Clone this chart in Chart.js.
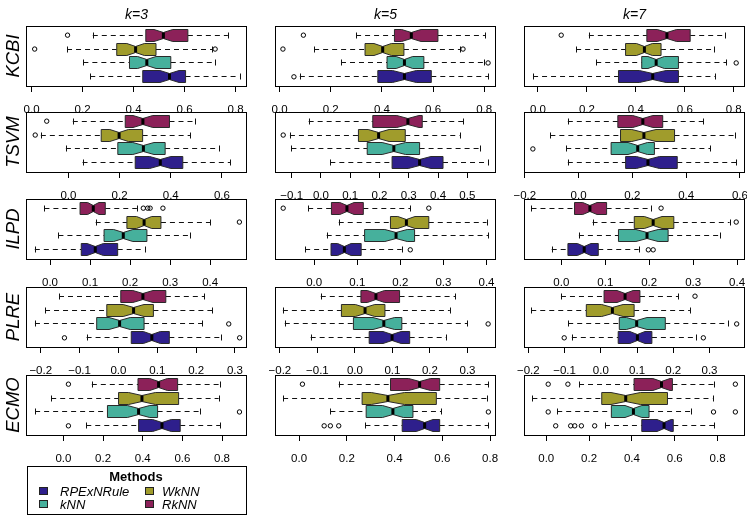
<!DOCTYPE html>
<html>
<head>
<meta charset="utf-8">
<script src="https://cdn.jsdelivr.net/npm/chart.js@4.4.1/dist/chart.umd.min.js"></script>
<style>
  html, body { margin:0; padding:0; background:#fff; }
  body { position:relative; width:747px; height:521px; overflow:hidden; font-family:"Liberation Sans", Arial, Helvetica, sans-serif; color:#000; }
  canvas { position:absolute; }
  .t { position:absolute; white-space:nowrap; transform:translate(-50%,-50%); line-height:1; }
  .l { position:absolute; white-space:nowrap; transform:translate(0,-50%); line-height:1; }
  .sw { position:absolute; box-sizing:border-box; border:1px solid #222; }
</style>
</head>
<body>
<script>
// ---------------- DATA ----------------
const datasetNames = ['KCBI', 'TSVM', 'ILPD', 'PLRE', 'ECMO'];
const kLabels = ['k=3', 'k=5', 'k=7'];
// bottom -> top inside each panel
const methods = ['RPExNRule', 'kNN', 'WkNN', 'RkNN'];

// five-number summaries [lower whisker, Q1, median, Q3, upper whisker]
// order: KCBI k3,k5,k7, TSVM k3,k5,k7, ILPD ..., PLRE ..., ECMO ...
const rpexnruleStats = [
  [0.230, 0.436, 0.541, 0.604, 0.816], [0.079, 0.384, 0.488, 0.593, 0.816], [-0.020, 0.329, 0.469, 0.574, 0.724],
  [0.055, 0.261, 0.359, 0.447, 0.633], [0.032, 0.243, 0.337, 0.417, 0.569], [-0.040, 0.175, 0.258, 0.367, 0.586],
  [-0.038, 0.078, 0.113, 0.169, 0.236], [-0.021, 0.039, 0.070, 0.109, 0.203], [-0.022, 0.015, 0.052, 0.084, 0.176],
  [-0.082, 0.033, 0.086, 0.131, 0.264], [-0.118, 0.038, 0.099, 0.146, 0.244], [-0.080, 0.048, 0.101, 0.141, 0.264],
  [0.115, 0.379, 0.497, 0.589, 0.792], [0.278, 0.432, 0.526, 0.589, 0.793], [0.274, 0.446, 0.550, 0.593, 0.784]
];
const knnStats = [
  [0.203, 0.384, 0.452, 0.546, 0.718], [0.240, 0.420, 0.488, 0.564, 0.800], [0.238, 0.424, 0.483, 0.574, 0.769],
  [-0.010, 0.193, 0.293, 0.378, 0.587], [-0.101, 0.158, 0.249, 0.337, 0.543], [-0.046, 0.121, 0.220, 0.282, 0.489],
  [0.021, 0.135, 0.183, 0.242, 0.350], [0.029, 0.117, 0.190, 0.233, 0.404], [0.040, 0.130, 0.195, 0.243, 0.362],
  [-0.215, -0.056, 0.003, 0.066, 0.216], [-0.187, -0.004, 0.077, 0.125, 0.299], [-0.090, 0.051, 0.099, 0.178, 0.352],
  [-0.143, 0.222, 0.379, 0.475, 0.691], [0.131, 0.281, 0.393, 0.477, 0.596], [0.051, 0.304, 0.407, 0.480, 0.675]
];
const wknnStats = [
  [0.139, 0.334, 0.408, 0.488, 0.708], [0.135, 0.334, 0.403, 0.486, 0.706], [0.156, 0.358, 0.435, 0.503, 0.721],
  [-0.108, 0.128, 0.198, 0.290, 0.476], [-0.106, 0.128, 0.197, 0.288, 0.474], [-0.105, 0.156, 0.243, 0.357, 0.583],
  [0.114, 0.192, 0.235, 0.277, 0.400], [0.057, 0.177, 0.214, 0.266, 0.400], [0.071, 0.166, 0.209, 0.256, 0.383],
  [-0.189, -0.030, 0.039, 0.090, 0.241], [-0.192, -0.036, 0.027, 0.080, 0.253], [-0.192, -0.040, 0.032, 0.092, 0.246],
  [-0.062, 0.278, 0.396, 0.581, 0.783], [-0.067, 0.264, 0.372, 0.575, 0.786], [-0.065, 0.259, 0.371, 0.566, 0.777]
];
const rknnStats = [
  [0.240, 0.448, 0.517, 0.613, 0.770], [0.299, 0.449, 0.515, 0.619, 0.803], [0.208, 0.445, 0.527, 0.622, 0.765],
  [0.017, 0.222, 0.291, 0.395, 0.496], [-0.042, 0.177, 0.297, 0.346, 0.486], [-0.040, 0.146, 0.239, 0.313, 0.464],
  [-0.014, 0.075, 0.108, 0.138, 0.217], [-0.014, 0.040, 0.076, 0.114, 0.223], [-0.068, 0.030, 0.065, 0.103, 0.204],
  [-0.153, 0.006, 0.063, 0.122, 0.221], [-0.091, 0.016, 0.056, 0.119, 0.268], [-0.110, 0.009, 0.067, 0.108, 0.214],
  [0.143, 0.376, 0.480, 0.576, 0.788], [0.166, 0.383, 0.505, 0.589, 0.793], [0.153, 0.410, 0.538, 0.589, 0.784]
];

// outliers per panel
const rpexnruleOutliers = [
  [], [0.056], [],
  [], [], [],
  [], [0.223], [0.198, 0.209],
  [-0.139, 0.312], [], [-0.101, 0.283],
  [0.025], [0.105, 0.131, 0.166], [0.044, 0.114, 0.133, 0.164, 0.226]
];
const knnOutliers = [
  [], [0.815], [0.810],
  [], [], [-0.170],
  [], [], [],
  [0.284], [0.355], [0.375],
  [0.888], [0.793], [0.009, 0.781, 0.883]
];
const wknnOutliers = [
  [0.012, 0.720], [0.013, 0.717], [],
  [-0.130], [-0.129], [],
  [0.473], [], [0.398],
  [], [], [],
  [], [], []
];
const rknnOutliers = [
  [0.141], [0.093], [0.095],
  [-0.085], [], [],
  [0.233, 0.244, 0.250, 0.282], [-0.072, 0.266], [0.227],
  [], [], [0.260],
  [0.025], [0.014], [0.009, 0.101, 0.883]
];

// x-axis ticks per panel
const xTicks = [
  [[0, 0.2, 0.4, 0.6, 0.8], [0, 0.2, 0.4, 0.6, 0.8], [0, 0.2, 0.4, 0.6, 0.8]],
  [[0, 0.2, 0.4, 0.6], [-0.1, 0, 0.1, 0.2, 0.3, 0.4, 0.5], [-0.2, 0, 0.2, 0.4, 0.6]],
  [[0, 0.1, 0.2, 0.3, 0.4], [0, 0.1, 0.2, 0.3, 0.4], [0, 0.1, 0.2, 0.3, 0.4]],
  [[-0.2, -0.1, 0, 0.1, 0.2, 0.3], [-0.2, -0.1, 0, 0.1, 0.2, 0.3], [-0.2, -0.1, 0, 0.1, 0.2, 0.3]],
  [[0, 0.2, 0.4, 0.6, 0.8], [0, 0.2, 0.4, 0.6, 0.8], [0, 0.2, 0.4, 0.6, 0.8]]
];
// x-axis limits per panel
const xRanges = [
  [[-0.022, 0.845], [-0.018, 0.846], [-0.057, 0.846]],
  [[-0.166, 0.698], [-0.157, 0.598], [-0.203, 0.619]],
  [[-0.060, 0.492], [-0.091, 0.422], [-0.085, 0.418]],
  [[-0.238, 0.331], [-0.213, 0.376], [-0.212, 0.398]],
  [[-0.189, 0.926], [-0.101, 0.825], [-0.104, 0.928]]
];
const sampleSize = 50; // used for notch width (1.58*IQR/sqrt(n))

// ---------------- STYLE / LAYOUT ----------------
const methodColors = ['#2E1F8C', '#46B09C', '#A09C2C', '#8C2159'];
const allStats = [rpexnruleStats, knnStats, wknnStats, rknnStats];
const allOutliers = [rpexnruleOutliers, knnOutliers, wknnOutliers, rknnOutliers];
const FONT = '"Liberation Sans", Arial, Helvetica, sans-serif';
const PANEL_W = 221, PANEL_H = 60, PADX = 24, PADT = 6, AXIS_H = 38;
const colLeft = [26, 275, 524];
const rowTop = [26, 112, 199, 287, 375];
const BOX_HALF = 0.45, STAPLE = 0.5, NOTCH = 1.58 / Math.sqrt(sampleSize);

Chart.defaults.font.family = FONT;

function fmt(v) {
  const a = Math.abs(v) < 1e-9 ? 0 : v;
  return (a < 0 ? '\u2212' : '') + Math.abs(a).toFixed(1);
}

function drawBox(ctx, xs, ys, stat, pos, color) {
  const [lo, q1, md, q3, hi] = stat;
  const yc = Math.floor(ys.getPixelForValue(pos)) + 0.5;
  const h = Math.round(Math.abs(ys.getPixelForValue(pos + BOX_HALF) - ys.getPixelForValue(pos)));
  const px = v => xs.getPixelForValue(v);
  const iqr = q3 - q1;
  const n1 = md - NOTCH * iqr, n2 = md + NOTCH * iqr;
  const sh = Math.round(h * STAPLE);
  ctx.save();
  ctx.lineWidth = 1;
  ctx.strokeStyle = '#111';
  ctx.setLineDash([5, 4]);
  ctx.beginPath();
  ctx.moveTo(px(lo), yc); ctx.lineTo(px(q1), yc);
  ctx.moveTo(px(q3), yc); ctx.lineTo(px(hi), yc);
  ctx.stroke();
  ctx.setLineDash([]);
  ctx.beginPath();
  ctx.moveTo(Math.round(px(lo)) + 0.5, yc - sh); ctx.lineTo(Math.round(px(lo)) + 0.5, yc + sh);
  ctx.moveTo(Math.round(px(hi)) + 0.5, yc - sh); ctx.lineTo(Math.round(px(hi)) + 0.5, yc + sh);
  ctx.stroke();
  ctx.beginPath();
  ctx.moveTo(px(q1), yc - h); ctx.lineTo(px(n1), yc - h); ctx.lineTo(px(md), yc - h / 2);
  ctx.lineTo(px(n2), yc - h); ctx.lineTo(px(q3), yc - h); ctx.lineTo(px(q3), yc + h);
  ctx.lineTo(px(n2), yc + h); ctx.lineTo(px(md), yc + h / 2); ctx.lineTo(px(n1), yc + h);
  ctx.lineTo(px(q1), yc + h); ctx.closePath();
  ctx.fillStyle = color; ctx.fill();
  ctx.strokeStyle = '#2a2a2a'; ctx.stroke();
  ctx.lineWidth = 3; ctx.strokeStyle = '#000';
  ctx.beginPath(); ctx.moveTo(px(md), yc - h / 2); ctx.lineTo(px(md), yc + h / 2); ctx.stroke();
  ctx.restore();
}

function makeBoxPlugin(idx) {
  return {
    id: 'notchedBoxes' + idx,
    beforeDatasetsDraw(chart) {
      const { ctx, scales: { x, y } } = chart;
      allStats.forEach((st, m) => drawBox(ctx, x, y, st[idx], m + 1, methodColors[m]));
    },
    afterDraw(chart) {
      const { ctx, chartArea: a } = chart;
      ctx.save();
      ctx.strokeStyle = '#000'; ctx.lineWidth = 1;
      ctx.strokeRect(Math.round(a.left) + 0.5, Math.round(a.top) + 0.5, Math.round(a.right - a.left) - 1, Math.round(a.bottom - a.top));
      ctx.restore();
    }
  };
}

for (let r = 0; r < datasetNames.length; r++) {
  for (let c = 0; c < kLabels.length; c++) {
    const idx = r * 3 + c;
    const cv = document.createElement('canvas');
    const W = PANEL_W + 2 * PADX, H = PADT + PANEL_H + AXIS_H;
    cv.width = W; cv.height = H;
    cv.style.left = (colLeft[c] - PADX) + 'px';
    cv.style.top = (rowTop[r] - PADT) + 'px';
    cv.style.width = W + 'px'; cv.style.height = H + 'px';
    document.body.appendChild(cv);
    const ticks = xTicks[r][c];
    new Chart(cv, {
      type: 'scatter',
      data: {
        datasets: methods.map((name, m) => ({
          label: name,
          data: allOutliers[m][idx].map(v => ({ x: v, y: m + 1 })),
          pointStyle: 'circle',
          pointRadius: 2.2,
          pointBorderWidth: 1,
          borderColor: '#000',
          backgroundColor: 'rgba(0,0,0,0)'
        }))
      },
      options: {
        responsive: false,
        animation: false,
        events: [],
        layout: { padding: { left: PADX, right: PADX, top: PADT, bottom: 0 } },
        plugins: { legend: { display: false }, tooltip: { enabled: false }, title: { display: false } },
        scales: {
          x: {
            type: 'linear',
            position: 'bottom',
            min: xRanges[r][c][0],
            max: xRanges[r][c][1],
            afterBuildTicks: s => { s.ticks = ticks.map(v => ({ value: v })); },
            afterFit: s => { s.height = AXIS_H; },
            grid: { drawOnChartArea: false, drawTicks: true, tickLength: 6, color: '#000', lineWidth: 1 },
            border: { display: false },
            ticks: {
              autoSkip: false, maxRotation: 0, minRotation: 0, padding: 10.5, color: '#000',
              font: { family: FONT, size: 11.5 },
              callback: v => fmt(v)
            }
          },
          y: { type: 'linear', min: 0.34, max: 4.66, display: false }
        }
      },
      plugins: [makeBoxPlugin(idx)]
    });
  }
}

// ---------------- TEXT ----------------
function addText(cls, str, x, y, css) {
  const d = document.createElement('div');
  d.className = cls; d.textContent = str;
  d.style.left = x + 'px'; d.style.top = y + 'px';
  Object.assign(d.style, css || {});
  document.body.appendChild(d);
  return d;
}
kLabels.forEach((k, c) => addText('t', k, colLeft[c] + PANEL_W / 2, 14, { fontStyle: 'italic', fontSize: '14px' }));
datasetNames.forEach((n, r) => addText('t', n, 12.5, rowTop[r] + PANEL_H / 2, {
  fontStyle: 'italic', fontSize: '18.5px', transform: 'translate(-50%,-50%) rotate(-90deg)'
}));

// legend
const lg = document.createElement('div');
Object.assign(lg.style, { position: 'absolute', left: '27px', top: '466px', width: '220px', height: '49px', border: '1px solid #000', boxSizing: 'border-box' });
document.body.appendChild(lg);
addText('t', 'Methods', 136, 476, { fontWeight: 'bold', fontSize: '13px' });
const legendOrder = [[0, 39, 60, 491], [2, 145, 162, 491], [1, 39, 60, 503.5], [3, 145, 162, 503.5]];
legendOrder.forEach(([m, sx, tx, y]) => {
  const s = document.createElement('div');
  s.className = 'sw';
  Object.assign(s.style, { left: sx + 'px', top: (y - 4) + 'px', width: '9px', height: '8px', background: methodColors[m] });
  document.body.appendChild(s);
  addText('l', methods[m], tx, y, { fontStyle: 'italic', fontSize: '13px' });
});
</script>
</body>
</html>
